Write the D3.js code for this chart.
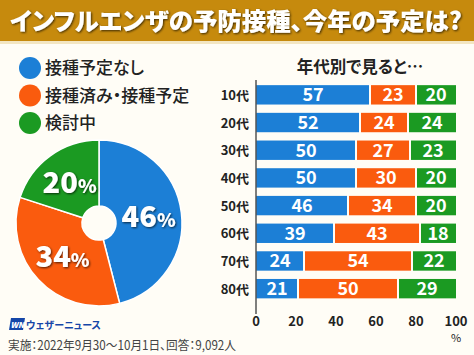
<!DOCTYPE html>
<html><head><meta charset="utf-8">
<script src="https://cdn.jsdelivr.net/npm/d3@7"></script>
<style>
html,body{margin:0;padding:0;background:#fffdf6;}
svg{display:block;font-family:"Noto Sans CJK JP","Noto Sans",sans-serif;}
.palt{font-feature-settings:"palt" 1;}
</style></head><body>
<script>
const title = "インフルエンザの予防接種、今年の予定は?";
const seriesNames = ["接種予定なし", "接種済み・接種予定", "検討中"];
const colors = ["#1c7fd6", "#fa5b0e", "#1b9a22"];
const overall = [46, 34, 20];
const ages = ["10代","20代","30代","40代","50代","60代","70代","80代"];
const noPlan = [57,52,50,50,46,39,24,21];
const done = [23,24,27,30,34,43,54,50];
const considering = [20,24,23,20,20,18,22,29];
const xTicks = [0,20,40,60,80,100];
const barTitle = "年代別で見ると…";
const footer = "実施：2022年9月30～10月1日、回答：9,092人";

const W=474,H=355;
const svg=d3.select("body").append("svg").attr("width",W).attr("height",H);
svg.append("rect").attr("width",W).attr("height",H).attr("fill","#fffdf6");
const defs=svg.append("defs");
const f=defs.append("filter").attr("id","sh").attr("x","-20%").attr("y","-20%").attr("width","140%").attr("height","140%");
f.append("feDropShadow").attr("dx",1).attr("dy",1).attr("stdDeviation",0.8).attr("flood-color","#000").attr("flood-opacity",0.7);

function fit(sel, target, size){
  const n=sel.node();
  const w=n.getComputedTextLength();
  if(w>0) sel.attr("font-size", size*target/w);
}

// title bar
svg.append("rect").attr("width",W).attr("height",41).attr("fill","#c68a0d");
svg.append("rect").attr("y",41).attr("width",W).attr("height",3).attr("fill","#f3e6c2");
const tt=svg.append("text").attr("class","palt").attr("x",10).attr("y",30).attr("fill","#fff").attr("font-size",25).attr("font-weight",900)
  .attr("filter","url(#sh)").text(title);
fit(tt,452,25);

// legend
const lg=svg.append("g");
seriesNames.forEach((n,i)=>{
  const y=68+i*27.5;
  lg.append("circle").attr("cx",30).attr("cy",y).attr("r",11).attr("fill",colors[i]);
  lg.append("text").attr("class","palt").attr("x",45).attr("y",y+6).attr("font-size",17).attr("font-weight",500).attr("fill","#222").text(n);
});

// pie
const cx=99,cy=223,R=83;
const pie=d3.pie().sort(null).value(d=>d);
const arcs=pie(overall);
const arc=d3.arc().innerRadius(17).outerRadius(R);
const pg=svg.append("g").attr("transform",`translate(${cx},${cy})`);
pg.selectAll("path").data(arcs).join("path").attr("d",arc).attr("fill",(d,i)=>colors[i]).attr("stroke","#fff").attr("stroke-width",1.5);
const labArc=d3.arc().innerRadius(50).outerRadius(50);
pg.selectAll("text.pl").data(arcs).join("text").attr("class","pl")
  .attr("transform",d=>{const c=labArc.centroid(d);return `translate(${c[0]},${c[1]+10})`;})
  .attr("text-anchor","middle").attr("fill","#fff").attr("font-weight",900).attr("filter","url(#sh)")
  .each(function(d){
    const t=d3.select(this);
    t.append("tspan").attr("font-size",29).text(d.data);
    t.append("tspan").attr("font-size",19).text("%");
  });

// bars
const x=d3.scaleLinear().domain([0,100]).range([256,456]);
const y=d3.scaleBand().domain(ages).range([81,302.5]).paddingInner(0.3).paddingOuter(0.15);
svg.append("text").attr("class","palt").attr("x",360).attr("y",73).attr("text-anchor","middle").attr("font-size",16.5).attr("font-weight",700).attr("fill","#222").text(barTitle);
const rows=ages.map((a,i)=>({age:a,vals:[noPlan[i],done[i],considering[i]]}));
const bg=svg.append("g");
rows.forEach(r=>{
  let acc=0;
  r.vals.forEach((v,k)=>{
    const x0=x(acc), x1=x(acc+v);
    bg.append("rect").attr("x",x0+(k>0?1:0)).attr("y",y(r.age)).attr("width",x1-x0-(k>0?1:0)-(k<2?1:0)).attr("height",y.bandwidth()).attr("fill",colors[k]);
    bg.append("text").attr("x",(x0+x1)/2).attr("y",y(r.age)+y.bandwidth()/2+6.5).attr("text-anchor","middle")
      .attr("fill","#fff").attr("font-size",18).attr("font-weight",700).text(v);
    acc+=v;
  });
  bg.append("text").attr("x",249).attr("y",y(r.age)+y.bandwidth()/2+5).attr("text-anchor","end")
    .attr("font-size",13).attr("font-weight",700).attr("fill","#222").text(r.age);
});
svg.append("line").attr("x1",256).attr("x2",256).attr("y1",80).attr("y2",314).attr("stroke","#555").attr("stroke-width",1.5);
const ax=svg.append("g");
xTicks.forEach(t=>{
  ax.append("text").attr("x",x(t)).attr("y",326).attr("text-anchor","middle").attr("font-size",13).attr("font-weight",700).attr("fill","#222").text(t);
});
ax.append("text").attr("x",x(100)).attr("y",342).attr("text-anchor","middle").attr("font-size",11).attr("fill","#222").text("%");

// footer
const lgo=svg.append("g").attr("transform","translate(9,318)");
lgo.append("path").attr("d","M2,0 L16,0 L14,12 L0,12 Z").attr("fill","#1546a8");
lgo.append("text").attr("x",1.5).attr("y",10).attr("font-size",8).attr("font-weight",900).attr("font-style","italic").attr("fill","#fff").text("WN");
svg.append("text").attr("class","palt").attr("x",26).attr("y",329).attr("font-size",10).attr("font-weight",700).attr("fill","#1546a8").text("ウェザーニュース");
svg.append("text").attr("class","palt").attr("x",8).attr("y",350).attr("font-size",12.5).attr("fill","#444")
  .attr("textLength",228).attr("lengthAdjust","spacingAndGlyphs").text(footer);
</script>
</body></html>
